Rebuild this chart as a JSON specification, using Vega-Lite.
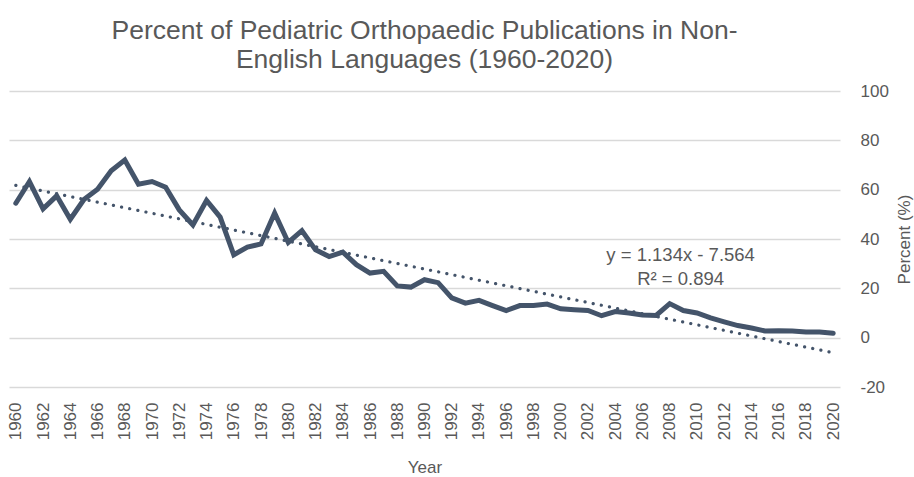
{
  "$schema": "https://vega.github.io/schema/vega-lite/v6.json",
  "width": 831,
  "height": 296,
  "autosize": "none",
  "padding": {"left": 9, "top": 91, "right": 74, "bottom": 90},
  "background": "white",
  "config": {
    "view": {"stroke": null},
    "font": "Liberation Sans",
    "axis": {"labelColor": "#595959", "titleColor": "#595959", "labelFont": "Liberation Sans", "titleFont": "Liberation Sans", "titleFontWeight": "normal"}
  },
  "title": {
    "text": ["Percent of Pediatric Orthopaedic Publications in Non-", "English Languages (1960-2020)"],
    "fontSize": 26.5,
    "fontWeight": "normal",
    "color": "#595959",
    "font": "Liberation Sans",
    "anchor": "middle",
    "lineHeight": 29,
    "offset": 9
  },
  "data": {
    "values": [
      {"Year": 1960, "Percent": 54.5}, {"Year": 1961, "Percent": 63.3}, {"Year": 1962, "Percent": 52.2},
      {"Year": 1963, "Percent": 57.5}, {"Year": 1964, "Percent": 48.0}, {"Year": 1965, "Percent": 56.0},
      {"Year": 1966, "Percent": 60.2}, {"Year": 1967, "Percent": 67.7}, {"Year": 1968, "Percent": 72.0},
      {"Year": 1969, "Percent": 62.2}, {"Year": 1970, "Percent": 63.3}, {"Year": 1971, "Percent": 61.0},
      {"Year": 1972, "Percent": 51.8}, {"Year": 1973, "Percent": 45.7}, {"Year": 1974, "Percent": 55.6},
      {"Year": 1975, "Percent": 48.9}, {"Year": 1976, "Percent": 33.6}, {"Year": 1977, "Percent": 36.7},
      {"Year": 1978, "Percent": 38.0}, {"Year": 1979, "Percent": 50.5}, {"Year": 1980, "Percent": 38.6},
      {"Year": 1981, "Percent": 43.4}, {"Year": 1982, "Percent": 35.6}, {"Year": 1983, "Percent": 32.9},
      {"Year": 1984, "Percent": 34.7}, {"Year": 1985, "Percent": 29.6}, {"Year": 1986, "Percent": 26.2},
      {"Year": 1987, "Percent": 26.9}, {"Year": 1988, "Percent": 21.0}, {"Year": 1989, "Percent": 20.5},
      {"Year": 1990, "Percent": 23.5}, {"Year": 1991, "Percent": 22.3}, {"Year": 1992, "Percent": 16.1},
      {"Year": 1993, "Percent": 14.0}, {"Year": 1994, "Percent": 15.1}, {"Year": 1995, "Percent": 13.0},
      {"Year": 1996, "Percent": 11.0}, {"Year": 1997, "Percent": 13.0}, {"Year": 1998, "Percent": 13.0},
      {"Year": 1999, "Percent": 13.6}, {"Year": 2000, "Percent": 11.7}, {"Year": 2001, "Percent": 11.3},
      {"Year": 2002, "Percent": 11.0}, {"Year": 2003, "Percent": 8.9}, {"Year": 2004, "Percent": 10.6},
      {"Year": 2005, "Percent": 10.0}, {"Year": 2006, "Percent": 9.2}, {"Year": 2007, "Percent": 9.0},
      {"Year": 2008, "Percent": 13.8}, {"Year": 2009, "Percent": 11.0}, {"Year": 2010, "Percent": 10.0},
      {"Year": 2011, "Percent": 8.0}, {"Year": 2012, "Percent": 6.4}, {"Year": 2013, "Percent": 4.9},
      {"Year": 2014, "Percent": 3.9}, {"Year": 2015, "Percent": 2.7}, {"Year": 2016, "Percent": 2.8},
      {"Year": 2017, "Percent": 2.7}, {"Year": 2018, "Percent": 2.3}, {"Year": 2019, "Percent": 2.3},
      {"Year": 2020, "Percent": 1.8}
    ]
  },
  "encoding": {
    "x": {
      "field": "Year", "type": "quantitative",
      "scale": {"domain": [1959.5, 2020.5], "nice": false, "zero": false},
      "axis": {
        "title": "Year", "titleFontSize": 17, "titlePadding": 20,
        "values": [1960,1962,1964,1966,1968,1970,1972,1974,1976,1978,1980,1982,1984,1986,1988,1990,1992,1994,1996,1998,2000,2002,2004,2006,2008,2010,2012,2014,2016,2018,2020],
        "format": "d", "labelAngle": -90, "labelFontSize": 17, "labelPadding": 15,
        "grid": false, "ticks": false, "domain": false, "labelFlush": false, "labelOverlap": false
      }
    },
    "y": {
      "field": "Percent", "type": "quantitative",
      "scale": {"domain": [-20, 100], "nice": false},
      "axis": {
        "orient": "right", "title": "Percent (%)", "titleFontSize": 17, "titlePadding": 8, "titleAngle": -90, "titleBaseline": "top",
        "values": [-20, 0, 20, 40, 60, 80, 100], "labelExpr": "'' + datum.value", "labelFontSize": 17, "labelPadding": 20,
        "ticks": false, "domain": false, "grid": true, "gridColor": "#D9D9D9", "gridWidth": 1.5
      }
    }
  },
  "layer": [
    {
      "mark": {"type": "line", "color": "#44546A", "strokeWidth": 5, "strokeJoin": "miter", "strokeCap": "round"}
    },
    {
      "transform": [{"regression": "Percent", "on": "Year", "extent": [1960, 2020]}],
      "mark": {"type": "line", "color": "#44546A", "strokeWidth": 3.2, "strokeDash": [0.1, 8.2], "strokeCap": "round"}
    },
    {
      "data": {"values": [
        {"Year": 2008.8, "Percent": 31.0, "label": "y = 1.134x - 7.564"},
        {"Year": 2008.8, "Percent": 21.2, "label": "R² = 0.894"}
      ]},
      "mark": {"type": "text", "fontSize": 18.5, "color": "#595959", "align": "center", "baseline": "alphabetic", "font": "Liberation Sans"},
      "encoding": {"text": {"field": "label"}}
    }
  ]
}
